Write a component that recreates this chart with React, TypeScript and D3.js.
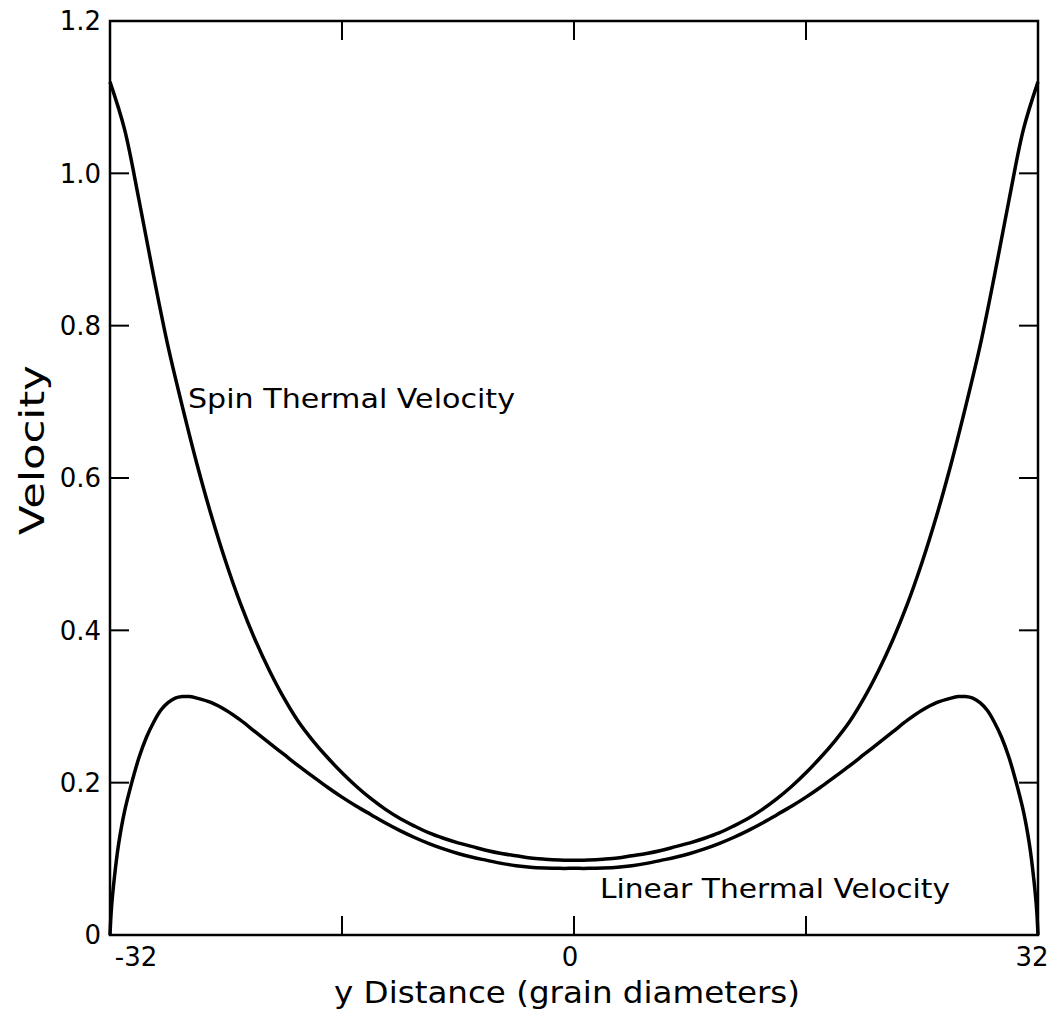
import React from "react";
import * as d3 from "d3";

const spinX = [-32, -31, -30, -29, -28, -27, -26, -25, -24, -23, -22, -21, -20, -19, -18, -17, -16, -15, -14, -13, -12, -11, -10, -9, -8, -7, -6, -5, -4, -3, -2, -1, 0, 1, 2, 3, 4, 5, 6, 7, 8, 9, 10, 11, 12, 13, 14, 15, 16, 17, 18, 19, 20, 21, 22, 23, 24, 25, 26, 27, 28, 29, 30, 31, 32];
const spinV = [1.12, 1.058, 0.965, 0.866, 0.773, 0.693, 0.618, 0.55, 0.489, 0.435, 0.388, 0.347, 0.311, 0.28, 0.255, 0.233, 0.213, 0.195, 0.179, 0.165, 0.153, 0.143, 0.134, 0.127, 0.121, 0.116, 0.111, 0.107, 0.104, 0.101, 0.0995, 0.0985, 0.098, 0.0985, 0.0995, 0.101, 0.104, 0.107, 0.111, 0.116, 0.121, 0.127, 0.134, 0.143, 0.153, 0.165, 0.179, 0.195, 0.213, 0.233, 0.255, 0.28, 0.311, 0.347, 0.388, 0.435, 0.489, 0.55, 0.618, 0.693, 0.773, 0.866, 0.965, 1.058, 1.12];

const linX = [-32, -31.9, -31.7, -31.4, -31, -30.5, -30, -29.5, -29, -28.5, -28, -27.5, -27, -26.5, -26, -25, -24, -23, -22, -21, -20, -19, -18, -17, -16, -15, -14, -13, -12, -11, -10, -9, -8, -7, -6, -5, -4, -3, -2, -1, 0, 1, 2, 3, 4, 5, 6, 7, 8, 9, 10, 11, 12, 13, 14, 15, 16, 17, 18, 19, 20, 21, 22, 23, 24, 25, 26, 26.5, 27, 27.5, 28, 28.5, 29, 29.5, 30, 30.5, 31, 31.4, 31.7, 31.9, 32];
const linV = [0, 0.035, 0.075, 0.12, 0.162, 0.2, 0.233, 0.259, 0.279, 0.295, 0.305, 0.311, 0.313, 0.313, 0.311, 0.305, 0.295, 0.282, 0.267, 0.252, 0.237, 0.222, 0.208, 0.194, 0.181, 0.169, 0.158, 0.147, 0.137, 0.128, 0.12, 0.113, 0.107, 0.102, 0.098, 0.094, 0.091, 0.089, 0.088, 0.0875, 0.0875, 0.0875, 0.088, 0.089, 0.091, 0.094, 0.098, 0.102, 0.107, 0.113, 0.12, 0.128, 0.137, 0.147, 0.158, 0.169, 0.181, 0.194, 0.208, 0.222, 0.237, 0.252, 0.267, 0.282, 0.295, 0.305, 0.311, 0.313, 0.313, 0.311, 0.305, 0.295, 0.279, 0.259, 0.233, 0.2, 0.162, 0.12, 0.075, 0.035, 0];

const yTicks = [0.2, 0.4, 0.6, 0.8, 1.0];
const yTickLabels = ["0", "0.2", "0.4", "0.6", "0.8", "1.0", "1.2"];
const yLabelVals = [0, 0.2, 0.4, 0.6, 0.8, 1.0, 1.2];
const xTicks = [-16, 0, 16];
const xTickLabels = ["-32", "0", "32"];
const xLabelVals = [-32, 0, 32];

export default function App() {
  const W = 1059, H = 1020;
  const L = 110, R = 1038, T = 21, B = 935;
  const x = d3.scaleLinear().domain([-32, 32]).range([L, R]);
  const y = d3.scaleLinear().domain([0, 1.2]).range([B, T]);
  const line = d3.line<[number, number]>().x(d => x(d[0])).y(d => y(d[1])).curve(d3.curveCatmullRom.alpha(0.5));
  const spin = line(spinX.map((v, i) => [v, spinV[i]] as [number, number])) || "";
  const lin = line(linX.map((v, i) => [v, linV[i]] as [number, number])) || "";
  const font = "'DejaVu Sans', sans-serif";
  const tl = 19;
  const xOff = [26, -4, -6];
  return (
    <svg width={W} height={H} style={{ position: "absolute", left: 0, top: 0, background: "#fff" }}>
      <rect x={L} y={T} width={R - L} height={B - T} fill="none" stroke="#000" strokeWidth={2.5} />
      {yTicks.map(t => (
        <g key={"y" + t}>
          <line x1={L} x2={L + tl} y1={y(t)} y2={y(t)} stroke="#000" strokeWidth={2} />
          <line x1={R} x2={R - tl} y1={y(t)} y2={y(t)} stroke="#000" strokeWidth={2} />
        </g>
      ))}
      {xTicks.map(t => (
        <g key={"x" + t}>
          <line x1={x(t)} x2={x(t)} y1={T} y2={T + tl} stroke="#000" strokeWidth={2} />
          <line x1={x(t)} x2={x(t)} y1={B} y2={B - tl} stroke="#000" strokeWidth={2} />
        </g>
      ))}
      {yLabelVals.map((v, i) => (
        <text key={"yl" + i} x={101} y={y(v)} dy="0.36em" textAnchor="end" fontFamily={font} fontSize={26} fill="#000">{yTickLabels[i]}</text>
      ))}
      {xLabelVals.map((v, i) => (
        <text key={"xl" + i} x={x(v) + xOff[i]} y={B + 31} textAnchor="middle" fontFamily={font} fontSize={26} fill="#000">{xTickLabels[i]}</text>
      ))}
      <path d={spin} fill="none" stroke="#000" strokeWidth={3.5} strokeLinejoin="round" />
      <path d={lin} fill="none" stroke="#000" strokeWidth={3.5} strokeLinejoin="round" />
      <text x={188} y={408} fontFamily={font} fontSize={27} textLength={327} lengthAdjust="spacingAndGlyphs" fill="#000">Spin Thermal Velocity</text>
      <text x={600} y={898} fontFamily={font} fontSize={27} textLength={350} lengthAdjust="spacingAndGlyphs" fill="#000">Linear Thermal Velocity</text>
      <text x={334} y={1003} fontFamily={font} fontSize={31} textLength={466} lengthAdjust="spacingAndGlyphs" fill="#000">y Distance (grain diameters)</text>
      <text transform={`translate(44,535) rotate(-90)`} fontFamily={font} fontSize={33} textLength={170} lengthAdjust="spacingAndGlyphs" fill="#000">Velocity</text>
    </svg>
  );
}
